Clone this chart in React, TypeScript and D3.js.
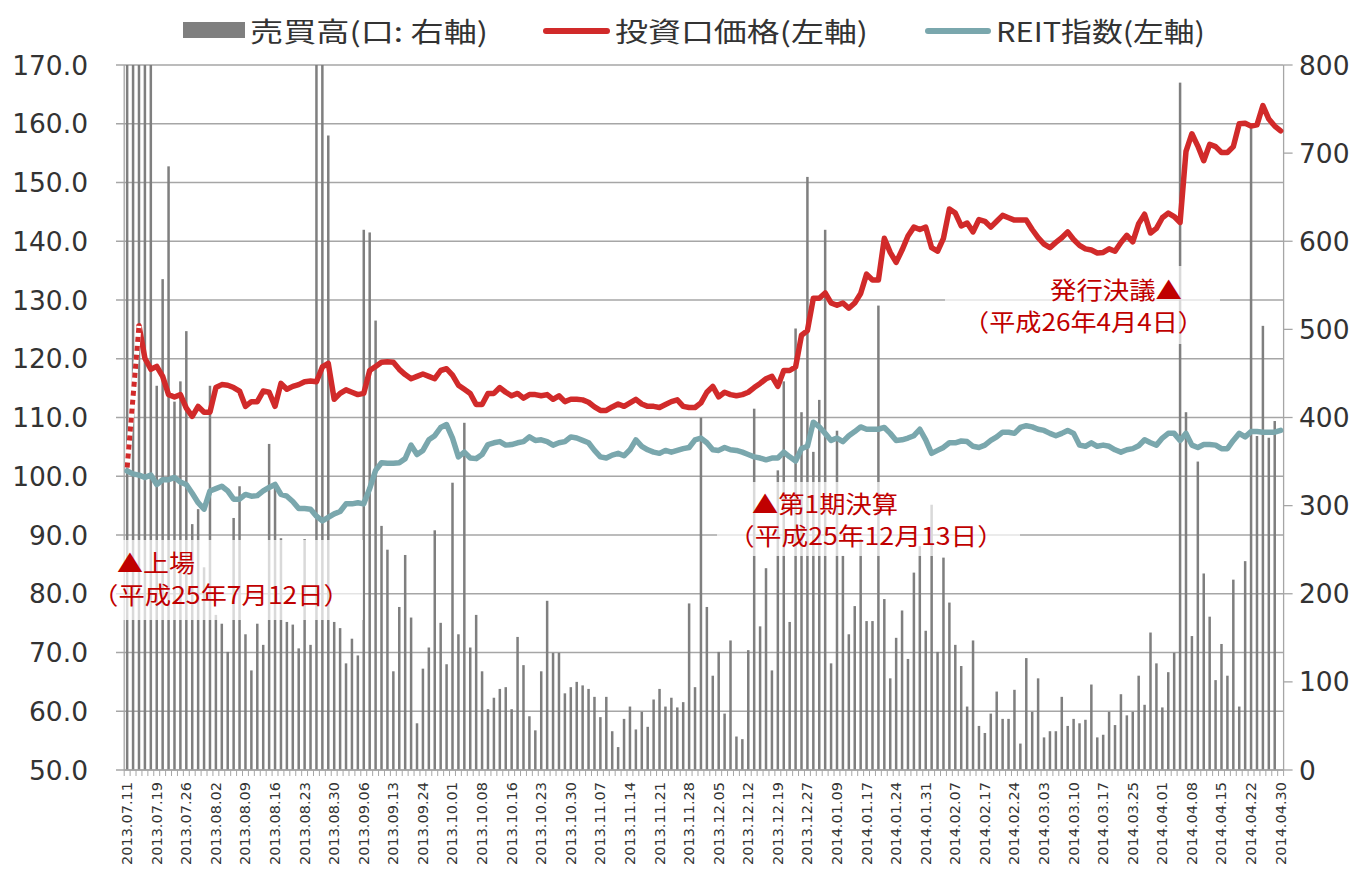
import React from 'react';
import * as d3 from 'd3';

// ---- data ----
const tickLabels = [
  '2013.07.11','2013.07.19','2013.07.26','2013.08.02','2013.08.09','2013.08.16','2013.08.23','2013.08.30',
  '2013.09.06','2013.09.13','2013.09.24','2013.10.01','2013.10.08','2013.10.16','2013.10.23','2013.10.30',
  '2013.11.07','2013.11.14','2013.11.21','2013.11.28','2013.12.05','2013.12.12','2013.12.19','2013.12.27',
  '2014.01.09','2014.01.17','2014.01.24','2014.01.31','2014.02.07','2014.02.17','2014.02.24','2014.03.03',
  '2014.03.10','2014.03.17','2014.03.25','2014.04.01','2014.04.08','2014.04.15','2014.04.22','2014.04.30'
];
const tickEvery = 5;

// 売買高 (口, right axis)
const volume = [
  1200,1100,950,1050,900,436,557,685,418,441,
  498,279,296,230,436,176,166,134,286,322,
  154,113,166,142,370,326,263,168,165,138,
  262,142,1000,900,720,168,161,121,149,130,
  613,610,510,277,250,112,185,244,173,53,
  115,139,272,167,120,326,154,394,139,176,
  112,69,82,92,94,69,151,119,61,45,
  112,192,133,133,87,94,100,96,92,83,
  60,83,44,26,58,72,46,66,49,80,
  92,72,82,71,77,189,94,400,185,107,
  134,64,147,38,35,136,410,163,229,113,
  340,441,168,501,406,673,361,420,613,121,
  385,243,154,186,262,169,169,527,194,104,
  150,181,126,224,254,158,301,134,241,190,
  142,118,72,147,50,42,64,89,58,58,
  91,30,127,66,104,37,44,44,83,50,
  58,53,57,97,37,40,66,51,86,62,
  66,107,74,156,121,71,111,133,780,406,
  152,350,223,174,102,143,107,216,72,237,
  730,379,504,377,396,0
];

// 投資口価格 (left axis); index 1 has no price
const price: (number | null)[] = [
  101.5,null,125.6,120.1,118.2,118.7,117.0,113.9,113.5,113.9,
  111.6,110.2,111.9,110.9,110.9,115.1,115.6,115.5,115.1,114.5,
  111.9,112.7,112.7,114.5,114.3,111.9,115.8,114.8,115.3,115.6,
  116.1,116.2,116.1,118.6,119.2,113.1,114.1,114.7,114.3,113.9,
  114.1,118.0,118.7,119.4,119.5,119.4,118.2,117.3,116.6,117.0,
  117.4,117.0,116.6,118.0,118.3,117.2,115.5,114.8,114.1,112.2,
  112.2,114.1,114.1,115.1,114.3,113.7,114.1,113.3,113.9,113.9,
  113.7,113.9,113.1,113.7,112.7,113.1,113.1,113.0,112.6,111.8,
  111.2,111.2,111.8,112.3,111.9,112.5,113.1,112.3,111.9,111.9,
  111.7,112.2,112.7,113.0,111.9,111.7,111.7,112.5,114.3,115.3,
  113.5,114.3,113.9,113.7,113.9,114.3,115.1,115.8,116.6,117.0,
  115.3,118.0,118.0,118.6,124.0,124.8,130.3,130.3,131.2,129.5,
  129.1,129.5,128.6,129.5,131.1,134.4,133.4,133.4,140.5,138.1,
  136.4,138.5,140.9,142.4,142.0,142.4,138.9,138.3,140.5,145.5,
  144.8,142.6,143.1,141.6,143.7,143.4,142.4,143.4,144.4,144.0,
  143.6,143.6,143.6,142.0,140.6,139.5,138.9,139.8,140.6,141.6,
  140.3,139.3,138.7,138.5,138.0,138.1,138.7,138.3,139.8,141.0,
  139.9,143.0,144.6,141.4,142.2,144.0,144.8,144.2,143.2,155.3,
  158.3,156.2,153.7,156.5,156.1,155.1,155.1,156.1,160.0,160.1,
  159.6,159.8,163.1,160.8,159.6,158.8
];

// REIT指数 (left axis)
const reit = [
  100.9,100.4,100.2,99.8,100.2,98.6,99.4,99.4,99.8,99.0,
  98.6,97.1,95.5,94.4,97.5,97.9,98.3,97.5,96.1,96.1,
  96.9,96.6,96.7,97.5,98.1,98.6,96.9,96.6,95.7,94.5,
  94.5,94.4,93.2,92.4,93.0,93.6,94.0,95.3,95.3,95.5,
  95.3,97.9,101.0,102.3,102.2,102.2,102.3,103.0,105.3,103.7,
  104.4,106.2,106.9,108.3,108.8,106.5,103.3,104.1,103.1,103.0,
  103.7,105.4,105.7,105.9,105.3,105.4,105.7,105.9,106.7,106.1,
  106.2,105.9,105.3,105.7,105.9,106.7,106.5,106.1,105.7,104.4,
  103.3,103.1,103.6,103.9,103.5,104.5,106.2,105.1,104.5,104.1,
  103.9,104.4,104.1,104.4,104.7,104.9,106.2,106.5,105.7,104.5,
  104.4,104.9,104.5,104.4,104.1,103.7,103.3,103.1,102.8,103.1,
  103.1,104.1,103.3,102.6,104.7,105.1,109.2,108.4,107.3,106.1,
  106.5,105.9,106.9,107.6,108.4,108.0,108.0,108.0,108.3,107.3,
  106.1,106.2,106.5,106.9,108.0,106.2,103.9,104.4,104.9,105.7,
  105.7,106.0,105.9,105.1,104.9,105.3,106.1,106.7,107.5,107.5,
  107.3,108.3,108.6,108.4,108.0,107.8,107.3,106.9,107.3,107.8,
  107.3,105.3,105.1,105.7,105.1,105.3,105.1,104.5,104.1,104.5,
  104.7,105.2,106.2,105.7,105.3,106.5,107.3,107.3,106.1,107.3,
  105.3,104.9,105.4,105.4,105.3,104.7,104.7,106.1,107.3,106.7,
  107.6,107.6,107.5,107.5,107.5,107.8
];

const leftTicks = [50, 60, 70, 80, 90, 100, 110, 120, 130, 140, 150, 160, 170];
const rightTicks = [0, 100, 200, 300, 400, 500, 600, 700, 800];

const legendItems = ['売買高(口: 右軸)', '投資口価格(左軸)', 'REIT指数(左軸)'];

const annotations = [
  ['▲上場', '（平成25年7月12日）'],
  ['▲第1期決算', '（平成25年12月13日）'],
  ['発行決議▲', '（平成26年4月4日）'],
];

const RED = '#d12a2a';
const TEAL = '#7aa7ad';
const BAR = '#7f7f7f';
const GRID = '#a6a6a6';
const TXT = '#333333';

export default function App() {
  const W = 1369, H = 875;
  const n = volume.length;
  const left = 124.2, right = 1283.6, top = 65, bottom = 770;
  const x = d3.scaleBand<number>().domain(d3.range(n)).range([left, right]).padding(0);
  const cx = (i: number) => (x(i) as number) + x.bandwidth() / 2;
  const yL = d3.scaleLinear().domain([50, 170]).range([bottom, top]);
  const yR = d3.scaleLinear().domain([0, 800]).range([bottom, top]);

  const lineGen = d3.line<[number, number | null]>()
    .defined(d => d[1] != null)
    .x(d => cx(d[0]))
    .y(d => yL(d[1] as number));

  const priceSolid = lineGen(price.map((v, i) => [i, v] as [number, number | null]).slice(2)) || '';
  const priceDotted = lineGen([[0, price[0]], [2, price[2]]]) || '';
  const reitPath = lineGen(reit.map((v, i) => [i, v] as [number, number])) || '';

  const annFont = '"Noto Sans CJK JP", "Noto Sans", sans-serif';
  const annColor = '#c00000';
  const numFont = '"DejaVu Sans", Verdana, sans-serif';

  // annotation layout
  const annBoxes = [
    { x: 95, y: 540, w: 268, h: 80 },
    { x: 717, y: 482, w: 303, h: 74 },
    { x: 945, y: 266, w: 275, h: 78 },
  ];
  const annText = [
    [{ x: 117, y: 561, w: 78 }, { x: 92, y: 593, w: 258 }],
    [{ x: 752, y: 502, w: 146 }, { x: 728, y: 534, w: 276 }],
    [{ x: 1050, y: 288, w: 132 }, { x: 963, y: 320, w: 241 }],
  ];

  return (
    <svg width={W} height={H} style={{ position: 'absolute', left: 0, top: 0, background: '#fff' }}
      xmlns="http://www.w3.org/2000/svg">
      <rect x={0} y={0} width={W} height={H} fill="#fff" />
      {/* gridlines + left ticks */}
      {leftTicks.map(t => (
        <line key={'g' + t} x1={116} x2={right} y1={yL(t)} y2={yL(t)} stroke={GRID} strokeWidth={1.3} />
      ))}
      {/* right axis ticks */}
      {rightTicks.map(t => (
        <line key={'rt' + t} x1={right} x2={right + 9} y1={yR(t)} y2={yR(t)} stroke={GRID} strokeWidth={1.3} />
      ))}
      {/* bars */}
      {volume.map((v, i) => v > 0 ? (
        <rect key={'b' + i} x={cx(i) - 1.25} width={2.5} y={yR(Math.min(v, 800))}
          height={bottom - yR(Math.min(v, 800))} fill={BAR} />
      ) : null)}
      {/* axes */}
      <line x1={left} x2={left} y1={top} y2={bottom} stroke={GRID} strokeWidth={1.3} />
      <line x1={right} x2={right} y1={top} y2={bottom} stroke={GRID} strokeWidth={1.3} />
      <line x1={left} x2={right} y1={bottom} y2={bottom} stroke={GRID} strokeWidth={1.3} />
      {d3.range(n + 1).map(i => {
        const xx = left + i * x.step();
        return <line key={'xt' + i} x1={xx} x2={xx} y1={bottom} y2={bottom + 6} stroke={GRID} strokeWidth={1} />;
      })}
      {/* lines */}
      <path d={reitPath} fill="none" stroke={TEAL} strokeWidth={5.5} strokeLinejoin="round" strokeLinecap="round" />
      <path d={priceSolid} fill="none" stroke={RED} strokeWidth={5.5} strokeLinejoin="round" strokeLinecap="round" />
      <path d={priceDotted} fill="none" stroke="#fff" strokeWidth={5} />
      <path d={priceDotted} fill="none" stroke={RED} strokeWidth={5} strokeDasharray="5 4" />
      {/* annotation boxes */}
      {annBoxes.map((b, k) => (
        <rect key={'ab' + k} x={b.x} y={b.y} width={b.w} height={b.h} fill="#fff" fillOpacity={0.7} />
      ))}
      {annotations.map((a, k) => a.map((s, j) => (
        <text key={'at' + k + j} x={annText[k][j].x} y={annText[k][j].y} dominantBaseline="central"
          fontFamily={annFont} fontSize={24} fill={annColor}
          textLength={annText[k][j].w} lengthAdjust="spacingAndGlyphs">{s}</text>
      )))}
      {/* left axis labels */}
      {leftTicks.map(t => (
        <text key={'ll' + t} x={88} y={yL(t)} textAnchor="end" dominantBaseline="central"
          fontFamily={numFont} fontSize={26.5} fill={TXT}>{t.toFixed(1)}</text>
      ))}
      {rightTicks.map(t => (
        <text key={'rl' + t} x={1299} y={yR(t)} textAnchor="start" dominantBaseline="central"
          fontFamily={numFont} fontSize={26.5} fill={TXT}>{t}</text>
      ))}
      {/* x labels */}
      {tickLabels.map((s, k) => {
        const i = k * tickEvery;
        const xx = cx(Math.min(i, n - 1));
        return (
          <text key={'xl' + k} transform={`translate(${xx},${bottom + 12}) rotate(-90)`}
            textAnchor="end" dominantBaseline="central"
            fontFamily={numFont} fontSize={14.5} fill={TXT}>{s}</text>
        );
      })}
      {/* legend */}
      <rect x={183} y={22} width={62} height={16} fill={BAR} />
      <text x={250} y={30} dominantBaseline="central" fontFamily={annFont} fontSize={27} fill={TXT}
        textLength={238} lengthAdjust="spacingAndGlyphs">{legendItems[0]}</text>
      <line x1={546} x2={607} y1={31} y2={31} stroke={RED} strokeWidth={6} strokeLinecap="round" />
      <text x={615} y={30} dominantBaseline="central" fontFamily={annFont} fontSize={27} fill={TXT}
        textLength={253} lengthAdjust="spacingAndGlyphs">{legendItems[1]}</text>
      <line x1={928} x2={988} y1={31} y2={31} stroke={TEAL} strokeWidth={6} strokeLinecap="round" />
      <text x={996} y={30} dominantBaseline="central" fontFamily={annFont} fontSize={27} fill={TXT}
        textLength={209} lengthAdjust="spacingAndGlyphs">{legendItems[2]}</text>
    </svg>
  );
}
